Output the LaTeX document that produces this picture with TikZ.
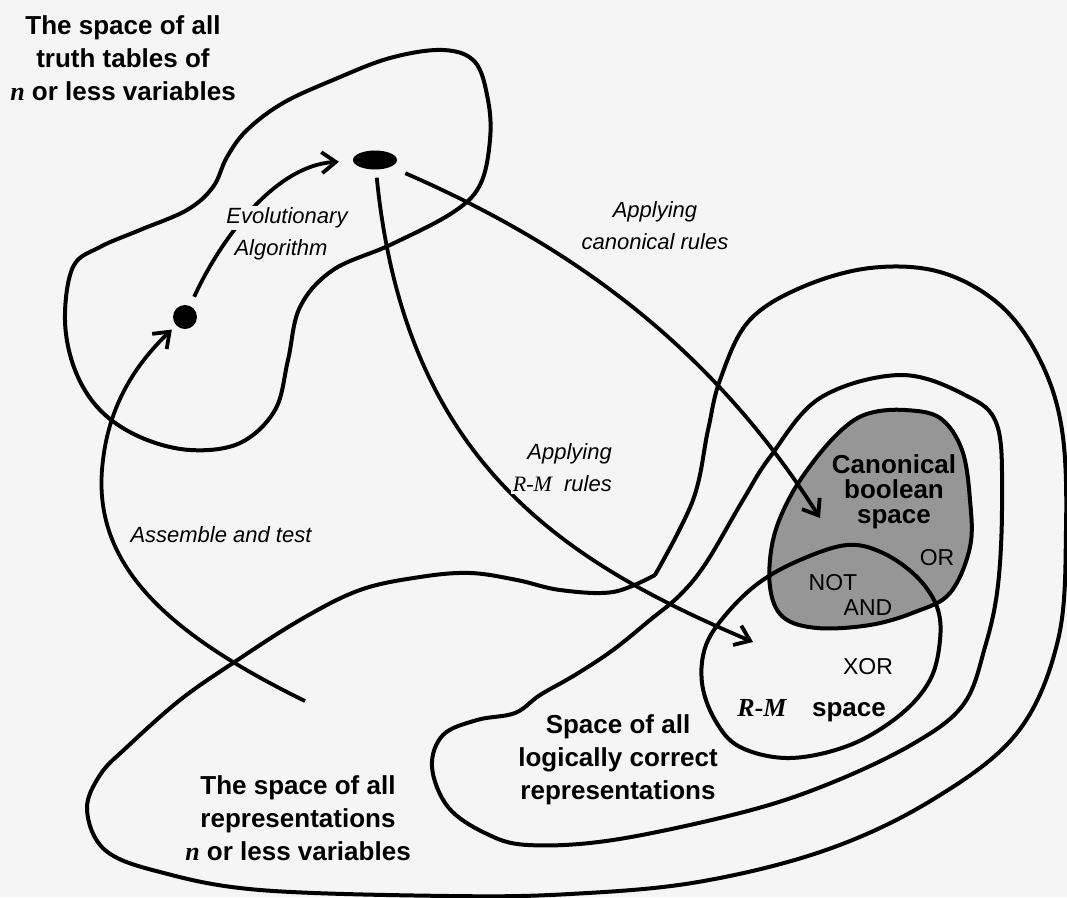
\documentclass[tikz,border=0pt]{standalone}
\usepackage{fontspec}
\setmainfont{Liberation Sans}
\newfontfamily\rmserif{Liberation Serif}
\usetikzlibrary{arrows.meta,shapes.geometric}
\definecolor{paper}{RGB}{245,245,245}
\definecolor{cbgray}{RGB}{150,150,150}
\tikzset{
  region/.style={line width=4pt, line join=round},
  flow/.style={line width=3.8pt, -{Straight Barb[length=14pt,width=21pt]}},
  title/.style={font=\bfseries\fontsize{26}{33}\selectfont, align=center, inner sep=0pt},
  note/.style={font=\itshape\fontsize{22}{32}\selectfont, align=center, fill=paper, inner sep=2pt},
  gate/.style={font=\fontsize{23}{26}\selectfont, inner sep=0pt},
}
\newcommand{\nvar}{{\rmserif\bfseries\itshape n}}
\begin{document}
\begin{tikzpicture}[x=1pt,y=-1pt]
  % canvas
  \fill[paper] (0,0) rectangle (1067,897);
  \useasboundingbox (0,0) rectangle (1067,897);

  % canonical boolean space (filled)
  \draw[region, fill=cbgray] plot[smooth cycle, tension=0.6] coordinates {(870,413) (905,410) (940,418) (962,450) (970,500) (970,547) (950,593) (915,612) (870,625) (817,628) (783,617) (770,587) (773,540) (790,497) (817,457) (845,427)};

  % space of all truth tables
  \draw[region] plot[smooth cycle, tension=0.6] coordinates {(443,50) (475,62) (488,100) (490,140) (480,185) (452,213) (390,245) (333,270) (300,307) (288,360) (275,410) (240,443) (190,450) (140,437) (100,410) (75,370) (65,320) (73,267) (100,247) (140,230) (187,210) (213,187) (227,157) (247,130) (283,103) (333,80) (390,58)};

  % space of all representations
  \draw[region] plot[smooth, tension=0.6] coordinates {(655,575) (693,500) (708,430) (720,380) (748,322) (800,288) (870,268) (940,272) (1000,305) (1040,360) (1062,430) (1066,530) (1058,640) (1017,733) (932,800) (826,850) (698,882) (570,894) (450,896) (260,890) (160,872) (105,850) (87,810) (100,775) (127,747) (180,700) (233,663) (300,620) (360,590) (420,577) (470,573) (517,580) (560,590) (613,592) (655,575)};

  % logically correct representations
  \draw[region] plot[smooth cycle, tension=0.6] coordinates {(900,375) (965,395) (997,425) (1002,500) (998,585) (985,647) (963,705) (911,745) (826,785) (740,813) (613,840) (528,845) (485,833) (448,807) (432,767) (443,735) (477,720) (515,713) (540,695) (575,675) (613,650) (650,620) (680,595) (706,563) (743,500) (770,457) (820,398)};

  % R-M space
  \draw[region] plot[smooth cycle, tension=0.6] coordinates {(847,545) (883,553) (917,577) (937,607) (940,640) (930,680) (900,715) (850,745) (790,758) (740,747) (715,720) (702,683) (706,645) (728,612) (760,582) (800,560)};

  % points in the truth-table space
  \node[ellipse, fill=black, minimum width=44pt, minimum height=19pt, inner sep=0pt] (evo) at (375,160) {};
  \node[circle, fill=black, minimum size=24pt, inner sep=0pt] (seed) at (185,317) {};

  \coordinate (canonTip) at (820,518);
  \coordinate (rmTip) at (753,642);
  \coordinate (asmStart) at (305,701);
  \coordinate (asmBend) at (103,460);

  % connectors
  \draw[flow, shorten <=10pt, shorten >=14pt] (seed) .. controls (220,240) and (275,165) .. (evo);
  \draw[flow, shorten <=16pt] (evo) .. controls (570,245) and (710,345) .. (canonTip);
  \draw[flow, shorten <=8pt] (evo) .. controls (405,460) and (560,560) .. (rmTip);
  \draw[flow, shorten >=6pt] (asmStart) .. controls (160,630) and (90,560) .. (asmBend) .. controls (110,400) and (140,360) .. (seed);

  % labels
  \node[title] (ttTitle) at (123,58) {The space of all\\truth tables of\\\nvar{} or less variables};
  \node[title] (repTitle) at (298,818) {The space of all\\representations\\\nvar{} or less variables};
  \node[title] (lcTitle) at (618,760) {Space of all\\logically correct\\representations};
  \node[title, font=\bfseries\fontsize{26}{25}\selectfont] (cbTitle) at (894,492) {Canonical\\boolean\\space};
  \node[title, anchor=base] (rmName) at (762,716) {\rmserif\bfseries\itshape R-M};
  \node[title, anchor=base] (rmSpace) at (849,716) {space};

  \node[gate] (gOr) at (937,558) {OR};
  \node[gate] (gNot) at (833,583) {NOT};
  \node[gate] (gAnd) at (868,608) {AND};
  \node[gate] (gXor) at (868,667) {XOR};

  \node[note] (evoA) at (287,218) {Evolutionary};
  \node[note] (evoB) at (281,250) {Algorithm};
  \node[note] (canonNote) at (655,226) {Applying\\canonical rules};
  \node[note, align=right, anchor=east] (rmNote) at (614,468) {Applying\\{\rmserif\itshape R-M}\ \ rules};
  \node[note] (asmNote) at (221,535) {Assemble and test};
\end{tikzpicture}
\end{document}
